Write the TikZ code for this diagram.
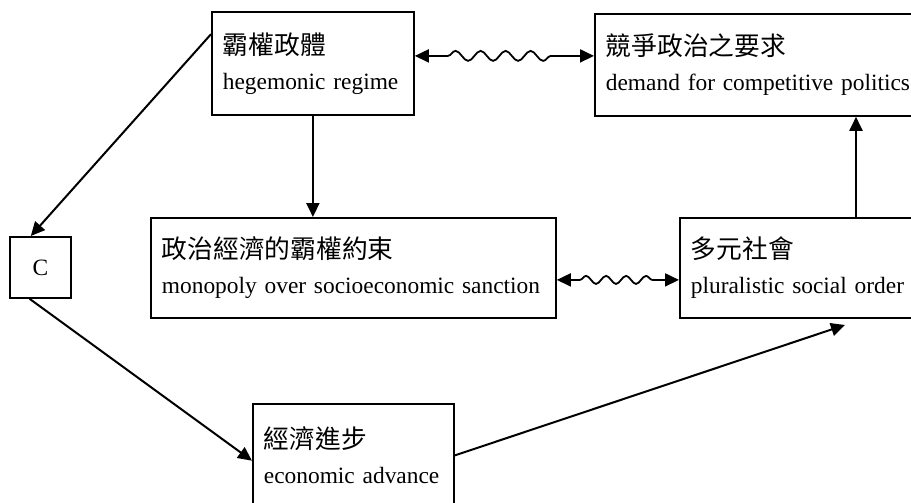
\documentclass[tikz,border=0pt]{standalone}
\usepackage{fontspec}
\setmainfont{Liberation Serif}
\newfontfamily\zh[Scale=1.1]{Noto Sans CJK TC}
\usetikzlibrary{arrows.meta,calc,decorations.pathmorphing}

\tikzset{
  box/.style={draw,line width=0.9pt,anchor=north west,align=left,inner xsep=5.5pt,
    font=\fontsize{11.7}{17.5}\selectfont},
  arr/.style={line width=1pt,-{Triangle[length=7pt,width=6.5pt]}},
  wave/.style={line width=0.9pt,{Triangle[length=7pt,width=6.5pt]}-{Triangle[length=7pt,width=6.5pt]},decorate}
}

\begin{document}
\begin{tikzpicture}[x=0.5pt,y=-0.5pt]
  % 畫面範圍
  \clip (0,0) rectangle (911,503);
  % 方框
  \node[box,text width=90pt,minimum height=51.5pt] (regime) at (211,11) {{\zh 霸權政體}\\hegemonic regime};
  \node[box,text width=170pt,minimum height=51pt] (demand) at (594,13) {{\zh 競爭政治之要求}\\demand for competitive politics};
  \node[draw,line width=0.9pt,anchor=north west,minimum size=30.5pt,font=\fontsize{11.7}{14}\selectfont] (cbox) at (9,236) {C};
  \node[box,text width=191.5pt,minimum height=50pt] (monopoly) at (150,217) {{\zh 政治經濟的霸權約束}\\monopoly over socioeconomic sanction};
  \node[box,text width=115pt,minimum height=50pt] (plural) at (679,217) {{\zh 多元社會}\\pluralistic social order};
  \node[box,text width=89.5pt,minimum height=51.5pt] (econ) at (252,403) {{\zh 經濟進步}\\economic advance};
  % 箭頭
  \draw[arr] (regime.164) -- (cbox.107);
  \draw[arr] (cbox.251) -- (econ.183);
  \coordinate (tip) at (845,325);
  \draw[arr] (econ.east) -- (tip);
  \draw[arr] (regime.south) -- (regime.south |- monopoly.north);
  \draw[arr] ($(plural.north west)+(177,0)$) coordinate (up) -- (up |- demand.south);
  % 波浪雙箭頭
  \draw[wave,decoration={snake,segment length=12.5pt,amplitude=2.5pt,pre length=16.5pt,post length=21pt}]
    ($(regime.east)+(0,-7.5)$) coordinate (w1) -- (w1 -| demand.west);
  \draw[wave,decoration={snake,segment length=10pt,amplitude=2pt,pre length=11.5pt,post length=12pt}]
    ($(monopoly.east)+(0,12)$) coordinate (w2) -- (w2 -| plural.west);
\end{tikzpicture}
\end{document}
